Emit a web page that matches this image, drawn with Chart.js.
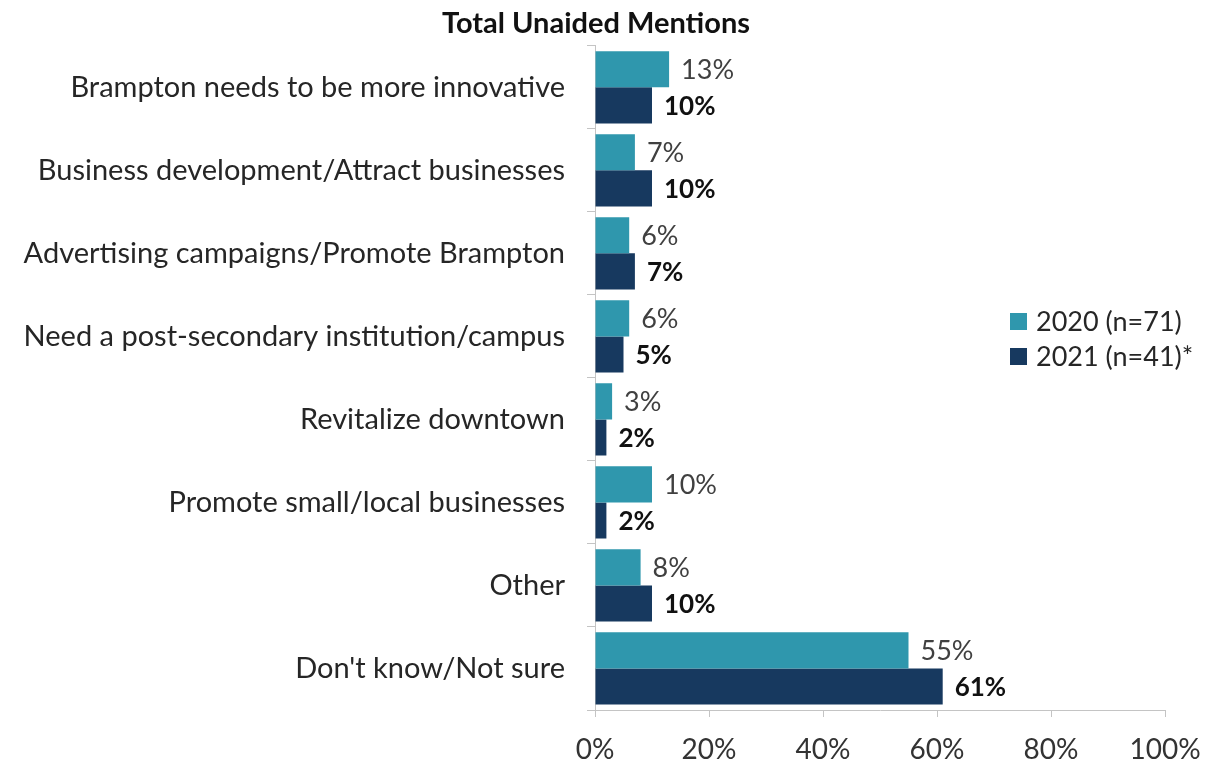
<!DOCTYPE html>
<html lang="en">
<head>
    <meta charset="UTF-8">
    <title>Total Unaided Mentions</title>
    <script src="https://cdn.jsdelivr.net/npm/chart.js"></script>
    <style>
        html, body {
            margin: 0;
            padding: 0;
            background: #ffffff;
        }
        #wrap {
            width: 1219px;
            height: 763px;
        }
    </style>
</head>
<body>
    <div id="wrap">
        <canvas id="mentionsChart"></canvas>
    </div>

    <script>
        const categories = [
            'Brampton needs to be more innovative',
            'Business development/Attract businesses',
            'Advertising campaigns/Promote Brampton',
            'Need a post-secondary institution/campus',
            'Revitalize downtown',
            'Promote small/local businesses',
            'Other',
            "Don't know/Not sure"
        ];
        const values2020 = [13, 7, 6, 6, 3, 10, 8, 55];
        const values2021 = [10, 10, 7, 5, 2, 2, 10, 61];
        const seriesNames = ['2020 (n=71)', '2021 (n=41)*'];
        const xTicks = [0, 20, 40, 60, 80, 100];

        const FONT = 'Lato, "Open Sans", sans-serif';
        const TEAL = '#2f97ad';
        const NAVY = '#17395f';
        const AXIS = '#c4c4c4';

        // value text at the end of each bar
        const barLabels = {
            id: 'barLabels',
            afterDatasetsDraw(chart) {
                const ctx = chart.ctx;
                ctx.save();
                ctx.textBaseline = 'middle';
                ctx.textAlign = 'left';
                chart.data.datasets.forEach((ds, i) => {
                    const meta = chart.getDatasetMeta(i);
                    ctx.font = i === 1 ? 'bold 26px ' + FONT : '27px ' + FONT;
                    ctx.fillStyle = i === 1 ? '#111111' : '#404040';
                    meta.data.forEach((bar, j) => {
                        ctx.fillText(ds.data[j] + '%', bar.x + 12, bar.y + 1);
                    });
                });
                ctx.restore();
            }
        };

        // legend on the right, drawn over the empty part of the plot
        const sideLegend = {
            id: 'sideLegend',
            afterDraw(chart) {
                const ctx = chart.ctx;
                ctx.save();
                ctx.font = '27px ' + FONT;
                ctx.textBaseline = 'middle';
                chart.data.datasets.forEach((ds, i) => {
                    const y = 321 + i * 35;
                    ctx.fillStyle = ds.backgroundColor;
                    ctx.fillRect(1010, y - 8, 17, 17);
                    ctx.fillStyle = '#262626';
                    ctx.fillText(ds.label, 1036, y + 1);
                });
                ctx.restore();
            }
        };

        new Chart(document.getElementById('mentionsChart'), {
            type: 'bar',
            data: {
                labels: categories,
                datasets: [
                    {
                        label: seriesNames[0],
                        data: values2020,
                        backgroundColor: TEAL
                    },
                    {
                        label: seriesNames[1],
                        data: values2021,
                        backgroundColor: NAVY
                    }
                ]
            },
            options: {
                indexAxis: 'y',
                responsive: true,
                maintainAspectRatio: false,
                animation: false,
                layout: {
                    padding: { top: 0, right: 27, bottom: 0, left: 0 }
                },
                datasets: {
                    bar: {
                        categoryPercentage: 0.87,
                        barPercentage: 1.0
                    }
                },
                plugins: {
                    legend: { display: false },
                    tooltip: { enabled: false },
                    title: {
                        display: true,
                        text: 'Total Unaided Mentions',
                        color: '#111111',
                        font: { family: FONT, size: 29, weight: 'bold' },
                        padding: { top: 6, bottom: 5 }
                    }
                },
                scales: {
                    x: {
                        min: 0,
                        max: 100,
                        afterBuildTicks(scale) {
                            scale.ticks = xTicks.map(v => ({ value: v }));
                        },
                        afterFit(scale) {
                            scale.height = 53;
                            scale.paddingRight = 54;
                        },
                        border: { display: true, color: AXIS, width: 1 },
                        grid: {
                            drawOnChartArea: false,
                            drawTicks: true,
                            tickLength: 7,
                            color: AXIS
                        },
                        ticks: {
                            callback: v => v + '%',
                            color: '#333333',
                            padding: 16,
                            maxRotation: 0,
                            font: { family: FONT, size: 28 }
                        }
                    },
                    y: {
                        afterFit(scale) {
                            scale.width = 595;
                        },
                        border: { display: true, color: AXIS, width: 1 },
                        grid: {
                            offset: true,
                            drawOnChartArea: false,
                            drawTicks: true,
                            tickLength: 8,
                            color: AXIS
                        },
                        ticks: {
                            color: '#262626',
                            padding: 22,
                            font: { family: FONT, size: 29 }
                        }
                    }
                }
            },
            plugins: [barLabels, sideLegend]
        });
    </script>
</body>
</html>
